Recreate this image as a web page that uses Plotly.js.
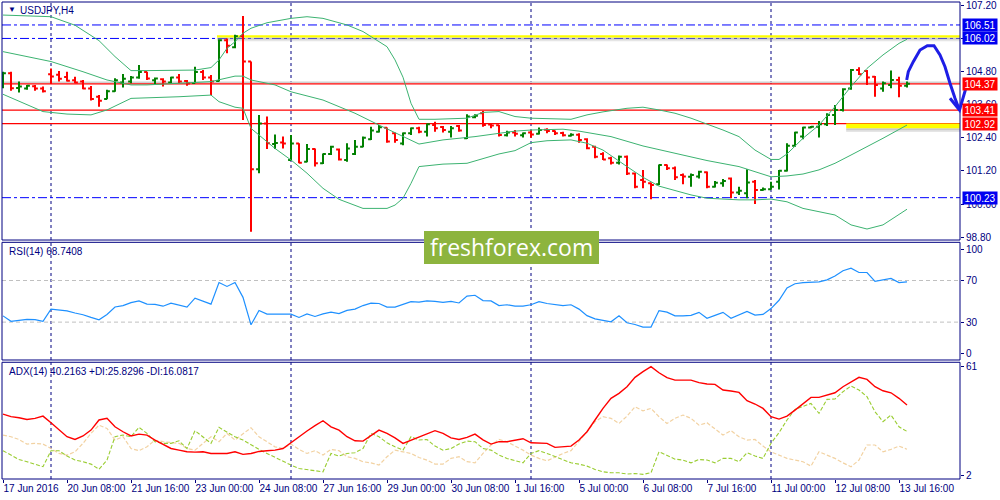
<!DOCTYPE html>
<html>
<head>
<meta charset="utf-8">
<script src="https://cdn.plot.ly/plotly-3.0.1.min.js"></script>
<style>html,body{margin:0;padding:0;background:#fff}#chart{width:1000px;height:500px}</style>
</head>
<body>
<div id="chart"></div>
<script>
// ---------- DATA (USDJPY, H4, 17 Jun 2016 - 13 Jul 2016) ----------
const open = [
104.35,104.75,104.22,104.20,104.28,104.20,104.72,104.70,104.62,104.50,
104.45,104.20,103.90,103.82,104.10,104.42,104.45,104.60,104.80,104.50,
104.54,104.42,104.60,104.47,104.40,104.80,104.60,104.47,105.95,105.70,
106.10,105.18,101.26,102.93,102.18,102.24,101.60,102.20,101.54,102.00,
101.48,101.82,101.98,101.60,101.82,102.08,102.35,102.63,102.77,102.57,
102.20,102.57,102.75,102.63,102.87,102.80,102.63,102.84,102.39,103.15,
103.30,102.89,102.86,102.50,102.60,102.50,102.60,102.55,102.70,102.65,
102.58,102.48,102.52,102.35,102.08,101.82,101.66,101.50,101.72,101.11,
100.87,100.75,100.72,101.42,101.30,101.05,100.99,101.00,101.15,100.63,
100.75,100.93,100.42,100.39,100.81,100.51,100.54,100.81,101.21,102.12,
102.45,102.78,102.81,102.90,103.24,103.42,104.20,104.87,104.84,104.63,
104.20,104.33,104.51,104.30];
const high = [
104.81,104.81,104.45,104.33,104.33,104.27,104.93,104.84,104.81,104.63,
104.51,104.29,103.96,104.15,104.57,104.73,104.65,105.05,104.81,104.60,
104.57,104.63,104.73,104.51,104.99,104.87,104.69,105.99,106.02,106.15,
106.84,105.18,103.24,103.18,102.53,102.45,102.51,102.21,102.18,102.02,
101.84,102.12,102.02,102.21,102.33,102.45,102.81,102.87,102.78,102.60,
102.60,102.78,102.81,102.93,102.99,102.84,102.84,102.87,103.26,103.26,
103.38,102.93,102.87,102.66,102.69,102.60,102.69,102.78,102.75,102.67,
102.63,102.57,102.57,102.39,102.12,101.88,101.72,101.76,101.76,101.14,
101.24,100.78,101.44,101.44,101.36,101.11,101.11,101.21,101.18,100.84,
100.91,100.96,100.63,101.26,100.87,100.60,100.81,101.24,102.21,102.63,
102.81,102.84,103.02,103.30,103.60,104.21,104.91,104.97,104.87,104.65,
104.45,104.85,104.63,104.45];
const low = [
104.21,104.12,104.05,104.15,104.12,104.05,104.36,104.45,104.45,104.39,
104.17,103.76,103.54,103.81,104.08,104.24,104.39,104.55,104.51,104.36,
104.27,104.39,104.39,104.30,104.39,104.51,103.96,104.45,105.48,105.66,
103.05,98.99,101.12,102.00,102.00,102.02,101.58,101.48,101.52,101.36,
101.45,101.78,101.58,101.54,101.78,102.06,102.33,102.60,102.23,102.23,
102.14,102.51,102.57,102.45,102.63,102.60,102.42,102.63,102.36,103.12,
102.81,102.75,102.45,102.45,102.45,102.42,102.41,102.53,102.57,102.51,
102.45,102.45,102.23,101.99,101.66,101.60,101.44,101.44,101.05,100.57,
100.57,100.17,100.69,101.24,100.87,100.72,100.63,100.93,100.57,100.60,
100.63,100.21,100.33,100.21,100.00,100.48,100.53,100.53,101.18,102.08,
102.35,102.75,102.42,102.84,102.87,103.36,104.15,104.69,104.33,103.90,
104.08,104.21,103.88,104.24];
const close = [
104.75,104.21,104.27,104.30,104.20,104.10,104.64,104.55,104.48,104.42,
104.20,103.82,103.75,104.10,104.50,104.55,104.60,104.80,104.56,104.56,
104.45,104.60,104.45,104.38,104.80,104.60,104.45,105.95,105.75,106.10,
105.18,101.26,102.93,102.21,102.22,102.20,102.20,101.50,102.00,101.48,
101.82,102.08,101.62,102.02,102.08,102.41,102.67,102.79,102.27,102.33,
102.57,102.75,102.63,102.90,102.75,102.69,102.75,102.67,103.18,103.21,
102.87,102.85,102.51,102.60,102.55,102.57,102.53,102.69,102.65,102.57,
102.50,102.52,102.33,102.03,101.72,101.62,101.50,101.72,101.11,100.63,
100.81,100.69,101.42,101.30,100.97,101.00,101.05,101.17,100.63,100.77,
100.84,100.42,100.48,100.78,100.51,100.54,100.63,101.21,102.12,102.60,
102.78,102.81,102.90,103.24,103.42,104.17,104.87,104.72,104.60,104.33,
104.39,104.51,104.30,104.37];

// Bollinger bands (sampled bar index -> value)
const bbUpIdx = [0,6,9,12,14,16,18,24,26,27,28,29,30,31,33,36,38,40,43,45,48,49,50,51,52,54,58,60,62,64,66,71,73,75,78,80,82,84,86,88,90,92,94,96,97,98,100,102,104,106,108,110,112,113];
const bbUp = [106.87,106.81,106.50,105.94,105.36,104.85,104.85,104.87,104.96,105.24,105.66,105.90,106.21,106.39,106.59,106.75,106.81,106.75,106.51,106.27,105.72,105.24,104.61,103.66,103.08,103.08,103.12,103.33,103.36,103.18,103.12,103.08,103.24,103.35,103.48,103.52,103.42,103.30,103.12,102.91,102.69,102.45,101.96,101.62,101.62,101.82,102.39,102.87,103.54,104.27,104.93,105.42,105.84,105.99];
const bbMidIdx = [0,6,10,13,16,18,26,27,29,30,31,34,36,40,44,47,50,52,55,59,62,64,66,70,72,76,80,84,88,92,96,98,100,102,104,106,108,110,113];
const bbMid = [105.54,105.18,104.81,104.51,104.33,104.33,104.45,104.51,104.65,104.65,104.51,104.33,104.08,103.78,103.30,102.87,102.45,102.18,102.33,102.45,102.57,102.65,102.69,102.72,102.65,102.45,102.11,101.84,101.58,101.36,100.99,101.02,101.09,101.24,101.48,101.78,102.08,102.39,102.87];
const bbLowIdx = [0,5,8,11,13,16,22,26,27,29,30,31,34,36,38,40,42,45,48,49,50,51,52,55,58,60,62,64,66,68,71,73,75,78,80,82,84,86,88,92,94,96,98,100,102,104,106,108,110,112,113];
const bbLow = [103.99,103.36,103.27,103.24,103.42,103.84,103.90,103.96,103.72,103.52,103.48,102.75,102.02,101.60,101.12,100.57,100.17,99.84,99.84,99.96,100.21,100.75,101.36,101.45,101.48,101.66,101.82,101.94,102.23,102.30,102.33,102.21,101.96,101.36,100.97,100.65,100.48,100.33,100.21,100.15,100.15,100.18,100.08,99.84,99.72,99.60,99.24,99.09,99.24,99.60,99.81];

const rsi = [36.0,30.8,31.7,32.6,32.3,30.8,42.5,41.6,40.8,38.8,
37.1,34.5,32.3,37.4,44.5,45.9,48.7,50.4,47.3,47.0,
45.3,48.2,46.5,44.5,53.0,50.1,47.3,68.0,64.3,68.0,
53.8,27.4,41.1,37.7,37.7,37.7,37.7,34.5,37.9,35.4,
37.9,39.6,38.2,41.3,42.5,45.9,48.2,47.9,44.5,44.5,
46.7,49.6,49.3,50.4,49.9,49.0,49.9,48.4,55.0,55.8,
50.7,50.4,45.9,46.7,45.3,45.3,46.7,49.6,47.9,46.7,
45.9,46.7,42.5,36.2,33.1,31.7,30.3,36.0,29.4,27.7,
25.2,25.2,41.1,39.6,36.0,36.0,36.5,39.4,33.7,36.5,
39.4,33.7,36.8,40.2,36.8,37.4,43.0,51.0,62.9,66.9,
68.0,68.0,68.6,70.6,74.3,79.4,81.9,77.7,77.7,69.1,
70.6,72.0,68.0,68.7];

const adx = [35.2,33.8,33.2,32.3,32.9,34.1,30.5,26.9,22.9,21.4,
23.3,26.5,32.0,32.9,28.3,25.6,23.3,24.3,23.8,21.1,
18.9,16.5,15.6,14.7,14.5,14.7,13.8,13.8,13.8,14.7,
13.3,13.8,14.9,15.3,15.6,16.5,19.8,22.9,26.0,28.9,
31.6,28.3,26.5,22.9,20.7,20.5,23.3,26.5,24.7,22.3,
19.3,21.1,22.5,24.7,26.2,24.7,22.3,21.4,22.5,24.3,
21.2,18.9,
20.2,20.2,21.1,21.8,19.6,19.3,19.3,17.1,17.4,17.8,
21.1,25.6,32.0,38.3,43.8,46.5,50.1,55.2,58.3,61.0,
57.7,55.0,53.7,53.7,53.7,52.3,51.6,51.4,48.3,47.8,
47.0,42.5,40.7,38.3,33.8,32.5,34.1,37.4,41.0,44.3,
44.3,45.6,46.8,50.1,52.8,55.2,54.1,50.1,47.9,46.8,
43.8,40.2];
const plusDI = [15.3,12.9,10.5,9.3,8.0,6.6,15.3,15.3,12.4,10.2,
9.3,8.0,5.2,10.2,22.9,23.8,22.9,28.0,24.7,20.2,
19.3,19.3,20.7,16.5,26.2,22.9,19.3,28.0,25.6,22.9,
21.1,18.4,16.0,13.8,11.6,9.8,7.5,5.6,5.1,4.4,
3.8,13.8,12.4,13.8,14.2,16.5,24.7,22.9,19.6,17.4,
15.6,22.9,21.1,21.4,17.8,15.6,16.5,18.9,20.5,20.2,
16.5,15.6,
12.9,11.1,9.8,8.7,13.8,15.3,13.8,12.0,10.2,8.7,
8.0,6.9,5.1,3.8,3.3,3.3,2.6,2.9,2.4,3.3,
14.7,12.9,10.7,10.2,8.7,10.5,10.2,8.7,11.1,11.1,
9.3,14.2,12.4,11.1,19.3,25.1,32.0,37.8,39.6,41.0,
35.6,43.2,43.4,47.4,50.5,48.3,44.7,36.5,31.1,34.7,
28.3,25.8];
const minusDI = [23.8,22.9,21.4,18.9,19.3,18.9,16.5,13.8,12.9,14.7,
19.3,24.7,29.2,27.4,21.1,22.9,16.5,15.3,17.4,21.1,
20.2,19.6,19.3,16.5,15.6,19.3,22.9,20.2,24.7,21.1,
24.7,27.8,22.9,20.2,17.4,16.5,18.9,16.0,13.8,15.3,
12.9,16.0,15.3,12.0,11.1,9.3,8.7,7.5,12.0,15.6,
14.7,13.8,11.6,10.2,8.0,8.0,11.1,12.0,9.3,8.7,
13.8,18.4,
21.4,20.2,17.8,15.6,12.9,11.1,9.8,12.0,13.8,15.3,
20.2,25.6,31.1,33.8,32.9,30.1,34.1,39.2,37.0,38.3,
33.8,30.1,32.9,34.7,32.9,29.2,30.5,26.9,23.8,26.2,
22.9,21.1,21.4,17.8,14.7,12.9,11.1,10.2,9.3,6.9,
14.7,12.9,11.1,8.7,6.6,10.2,18.4,18.4,14.7,16.0,
17.8,16.1];

const tickBars = [0,8,16,24,32,40,48,56,64,72,80,88,96,104,112];
const tickLabels = ['17 Jun 2016','20 Jun 08:00','21 Jun 16:00','23 Jun 00:00','24 Jun 08:00','27 Jun 16:00','29 Jun 00:00','30 Jun 08:00','1 Jul 16:00','5 Jul 00:00','6 Jul 08:00','7 Jul 16:00','11 Jul 00:00','12 Jul 08:00','13 Jul 16:00'];
const priceTicks = [98.80,100.00,101.20,102.40,103.60,104.80,106.00,107.20];
const weekStarts = [6,36,66,96];
const blueLevels = [106.51,106.02,100.23];
const redLevels = [104.37,103.41,102.92];
const askLevel = 104.43;
const zoneStart = [26.75,105.4];
const zoneTop = [106.14,102.93];
const zoneBottom = [106.05,102.75];

// ---------- LAYOUT HELPERS ----------
const W = 1000, H = 500, ML = 2, MR = 40, MT = 2, MB = 21;
const PW = W - ML - MR, PH = H - MT - MB;
const px = X => (X - ML) / PW;
const py = Y => (H - MB - Y) / PH;
const NAVY = '#000080';
const FONT = 'Liberation Sans, Arial, sans-serif';
const bars = open.map((_, i) => i);
const xMax = 119.625;

const traces = [
  {type:'ohlc', x:bars, open:open, high:high, low:low, close:close, xaxis:'x', yaxis:'y',
   increasing:{line:{color:'#008000', width:2}}, decreasing:{line:{color:'#FF0000', width:2}},
   tickwidth:0.36, hoverinfo:'skip'},
  {type:'scatter', mode:'lines', x:bbUpIdx, y:bbUp, xaxis:'x', yaxis:'y', line:{color:'#3CB371', width:1}, hoverinfo:'skip'},
  {type:'scatter', mode:'lines', x:bbMidIdx, y:bbMid, xaxis:'x', yaxis:'y', line:{color:'#3CB371', width:1}, hoverinfo:'skip'},
  {type:'scatter', mode:'lines', x:bbLowIdx, y:bbLow, xaxis:'x', yaxis:'y', line:{color:'#3CB371', width:1}, hoverinfo:'skip'},
  {type:'scatter', mode:'lines', x:bars, y:rsi, xaxis:'x', yaxis:'y2', line:{color:'#1E90FF', width:1.2}, hoverinfo:'skip'},
  {type:'scatter', mode:'lines', x:bars, y:minusDI, xaxis:'x', yaxis:'y3', line:{color:'#F2D2A2', width:1.2, dash:'4px,2px'}, hoverinfo:'skip'},
  {type:'scatter', mode:'lines', x:bars, y:plusDI, xaxis:'x', yaxis:'y3', line:{color:'#9ACD32', width:1.1, dash:'4px,2px'}, hoverinfo:'skip'},
  {type:'scatter', mode:'lines', x:bars, y:adx, xaxis:'x', yaxis:'y3', line:{color:'#FF0000', width:1.4}, hoverinfo:'skip'}
];

const shapes = [];
// vertical week separators
['y','y2','y3'].forEach(ax => weekStarts.forEach(w => shapes.push({
  type:'line', xref:'x', yref:ax+' domain', x0:w, x1:w, y0:0, y1:1, layer:'below',
  line:{color:NAVY, width:1, dash:'3px,3px'}})));
// RSI levels
[70,30].forEach(v => shapes.push({type:'line', xref:'paper', yref:'y2', x0:0, x1:1, y0:v, y1:v, layer:'below',
  line:{color:'#C0C0C0', width:1, dash:'4px,3px'}}));
// ask line
shapes.push({type:'line', xref:'paper', yref:'y', x0:0, x1:1, y0:askLevel, y1:askLevel, layer:'below', line:{color:'#CFCFCF', width:1.5}});
// yellow zones with shadow
zoneStart.forEach((s, k) => {
  const t = zoneTop[k], b = zoneBottom[k];
  shapes.push({type:'rect', xref:'x', yref:'y', x0:s, x1:xMax, y0:b-0.13, y1:b, layer:'below', line:{width:0}, fillcolor:'rgba(150,150,150,0.25)'});
  shapes.push({type:'rect', xref:'x', yref:'y', x0:s, x1:xMax, y0:b-0.07, y1:b, layer:'below', line:{width:0}, fillcolor:'rgba(150,150,150,0.35)'});
  shapes.push({type:'rect', xref:'x', yref:'y', x0:s, x1:xMax, y0:b, y1:t, layer:'below', line:{width:0}, fillcolor:'#FFFF00'});
});
// horizontal levels
blueLevels.forEach(v => shapes.push({type:'line', xref:'paper', yref:'y', x0:0, x1:1, y0:v, y1:v, layer:'below',
  line:{color:'#0000FF', width:1, dash:'9px,3px,3px,3px'}}));
redLevels.forEach(v => shapes.push({type:'line', xref:'paper', yref:'y', x0:0, x1:1, y0:v, y1:v, layer:'below',
  line:{color:'#FF0000', width:1.2}}));
// panel borders
['y','y2','y3'].forEach(ax => shapes.push({type:'rect', xref:'paper', yref:ax+' domain', x0:0, x1:1, y0:0, y1:1,
  line:{color:NAVY, width:1}, fillcolor:'rgba(0,0,0,0)', layer:'above'}));
// watermark box
shapes.push({type:'rect', xref:'paper', yref:'paper', x0:px(424), x1:px(599), y0:py(264), y1:py(231),
  line:{width:0}, fillcolor:'#8DB43E', layer:'above'});
// hand-drawn forecast arrow (pixel drawing -> paper)
const toPath = pts => pts.map((p, i) => (i ? 'L' : 'M') + px(p[0]).toFixed(5) + ',' + py(p[1]).toFixed(5)).join(' ');
const arrowCurve = [[906.7,80],[908.3,71.7],[913.3,61.7],[920,50],[927.3,45.7],[934,45.7],[940,55],[945,66.7],[950,83.3],[955,98.3],[959,109]];
const arrowHead = [[950,98.3],[959.5,110],[967.3,83.3]];
shapes.push({type:'path', xref:'paper', yref:'paper', path:toPath(arrowCurve), line:{color:'#1E1EE6', width:3}, layer:'above'});
shapes.push({type:'path', xref:'paper', yref:'paper', path:toPath(arrowHead), line:{color:'#1E1EE6', width:3}, layer:'above'});

const annotations = [];
const txt = (X, Y, text, size, color, anchor) => annotations.push({xref:'paper', yref:'paper', x:px(X), y:py(Y),
  text:text, showarrow:false, xanchor:anchor || 'left', yanchor:'middle', font:{family:FONT, size:size, color:color}});
txt(6, 10, '▼', 8, NAVY);
txt(18, 10.5, 'USDJPY,H4', 10, NAVY);
txt(7, 251.5, 'RSI(14) 68.7408', 10, NAVY);
txt(7, 371.5, 'ADX(14) 40.2163 +DI:25.8296 -DI:16.0817', 10, NAVY);
txt(511.5, 247.5, 'freshforex.com', 23, '#FFFFFF', 'center');
annotations[annotations.length-1].font.family = 'Open Sans, sans-serif';
const box = (v, bg) => annotations.push({xref:'paper', yref:'y', x:1, y:v, xanchor:'left', yanchor:'middle', xshift:2,
  text:v.toFixed(2), showarrow:false, bgcolor:bg, width:34, height:12, borderpad:0,
  font:{family:FONT, size:10, color:'#FFFFFF'}});
blueLevels.forEach(v => box(v, '#0000F0'));
redLevels.forEach(v => box(v, '#FF0000'));

const axFont = {family:FONT, size:10, color:NAVY};
const layout = {
  width:W, height:H, margin:{l:ML, r:MR, t:MT, b:MB, pad:0},
  paper_bgcolor:'#FFFFFF', plot_bgcolor:'#FFFFFF', showlegend:false, hovermode:false,
  xaxis:{range:[-0.125, xMax], anchor:'y3', tickmode:'array', tickvals:tickBars, ticktext:tickLabels, tickangle:0,
    ticks:'outside', ticklen:3, tickcolor:NAVY, tickfont:axFont, ticklabelposition:'outside right',
    showgrid:false, zeroline:false, showline:false, rangeslider:{visible:false}, fixedrange:true},
  yaxis:{domain:[0.501, 1], range:[98.69, 107.345], side:'right', anchor:'x', tickmode:'array', tickvals:priceTicks,
    tickformat:'.2f', ticks:'outside', ticklen:3, tickcolor:NAVY, tickfont:axFont, showgrid:false, zeroline:false, fixedrange:true},
  yaxis2:{domain:[0.2495, 0.4962], range:[-6.4, 106.7], side:'right', anchor:'x', tickmode:'array', tickvals:[0,30,70,100],
    ticks:'outside', ticklen:3, tickcolor:NAVY, tickfont:axFont, showgrid:false, zeroline:false, fixedrange:true},
  yaxis3:{domain:[0, 0.2447], range:[-0.1, 63.4], side:'right', anchor:'x', tickmode:'array', tickvals:[2,61],
    ticks:'outside', ticklen:3, tickcolor:NAVY, tickfont:axFont, showgrid:false, zeroline:false, fixedrange:true},
  shapes:shapes, annotations:annotations
};
Plotly.newPlot('chart', traces, layout, {displayModeBar:false, staticPlot:true});
</script>
</body>
</html>
